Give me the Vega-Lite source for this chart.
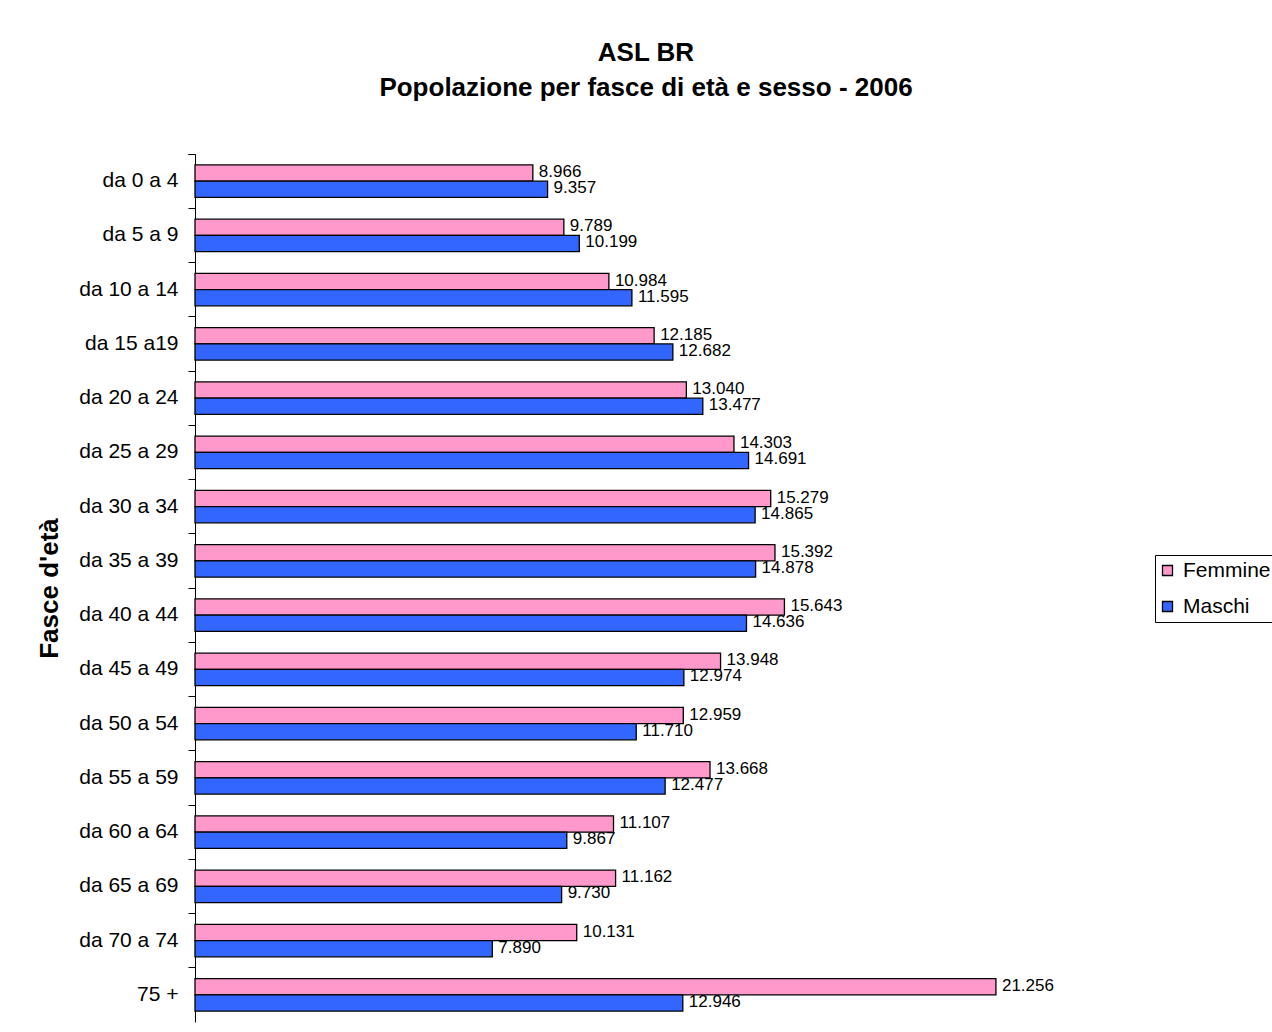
{
  "$schema": "https://vega.github.io/schema/vega-lite/v6.json",
  "autosize": "none",
  "width": 942,
  "height": 868,
  "padding": {"left": 195, "top": 154, "right": 135, "bottom": 10},
  "background": "white",
  "title": {
    "text": ["ASL BR", "Popolazione per fasce di età e sesso - 2006"],
    "font": "Liberation Sans",
    "fontSize": 26,
    "fontWeight": "bold",
    "color": "black",
    "anchor": "middle",
    "dx": -20,
    "offset": 42,
    "lineHeight": 35
  },
  "config": {
    "font": "Liberation Sans",
    "view": {"stroke": null},
    "locale": {
      "number": {"decimal": ",", "thousands": ".", "grouping": [3], "currency": ["€", ""]}
    }
  },
  "data": {
    "values": [
      {"fascia": "da 0 a 4", "sesso": "Femmine", "pop": 8966},
      {"fascia": "da 0 a 4", "sesso": "Maschi", "pop": 9357},
      {"fascia": "da 5 a 9", "sesso": "Femmine", "pop": 9789},
      {"fascia": "da 5 a 9", "sesso": "Maschi", "pop": 10199},
      {"fascia": "da 10 a 14", "sesso": "Femmine", "pop": 10984},
      {"fascia": "da 10 a 14", "sesso": "Maschi", "pop": 11595},
      {"fascia": "da 15 a19", "sesso": "Femmine", "pop": 12185},
      {"fascia": "da 15 a19", "sesso": "Maschi", "pop": 12682},
      {"fascia": "da 20 a 24", "sesso": "Femmine", "pop": 13040},
      {"fascia": "da 20 a 24", "sesso": "Maschi", "pop": 13477},
      {"fascia": "da 25 a 29", "sesso": "Femmine", "pop": 14303},
      {"fascia": "da 25 a 29", "sesso": "Maschi", "pop": 14691},
      {"fascia": "da 30 a 34", "sesso": "Femmine", "pop": 15279},
      {"fascia": "da 30 a 34", "sesso": "Maschi", "pop": 14865},
      {"fascia": "da 35 a 39", "sesso": "Femmine", "pop": 15392},
      {"fascia": "da 35 a 39", "sesso": "Maschi", "pop": 14878},
      {"fascia": "da 40 a 44", "sesso": "Femmine", "pop": 15643},
      {"fascia": "da 40 a 44", "sesso": "Maschi", "pop": 14636},
      {"fascia": "da 45 a 49", "sesso": "Femmine", "pop": 13948},
      {"fascia": "da 45 a 49", "sesso": "Maschi", "pop": 12974},
      {"fascia": "da 50 a 54", "sesso": "Femmine", "pop": 12959},
      {"fascia": "da 50 a 54", "sesso": "Maschi", "pop": 11710},
      {"fascia": "da 55 a 59", "sesso": "Femmine", "pop": 13668},
      {"fascia": "da 55 a 59", "sesso": "Maschi", "pop": 12477},
      {"fascia": "da 60 a 64", "sesso": "Femmine", "pop": 11107},
      {"fascia": "da 60 a 64", "sesso": "Maschi", "pop": 9867},
      {"fascia": "da 65 a 69", "sesso": "Femmine", "pop": 11162},
      {"fascia": "da 65 a 69", "sesso": "Maschi", "pop": 9730},
      {"fascia": "da 70 a 74", "sesso": "Femmine", "pop": 10131},
      {"fascia": "da 70 a 74", "sesso": "Maschi", "pop": 7890},
      {"fascia": "75 +", "sesso": "Femmine", "pop": 21256},
      {"fascia": "75 +", "sesso": "Maschi", "pop": 12946}
    ]
  },
  "encoding": {
    "y": {
      "field": "fascia",
      "type": "nominal",
      "sort": null,
      "scale": {"paddingInner": 0, "paddingOuter": 0},
      "axis": {
        "title": "Fasce d'età",
        "titleFont": "Liberation Sans",
        "titleFontSize": 26,
        "titleFontWeight": "bold",
        "titleColor": "black",
        "titleAngle": -90,
        "titleX": -146,
        "titleY": 434,
        "titleAlign": "center",
        "titleBaseline": "middle",
        "labelFont": "Liberation Sans",
        "labelFontSize": 21,
        "labelColor": "black",
        "labelPadding": 10,
        "domainColor": "black",
        "domainWidth": 1,
        "tickColor": "black",
        "tickSize": 7,
        "bandPosition": 0,
        "tickExtra": true
      }
    },
    "yOffset": {
      "field": "sesso",
      "type": "nominal",
      "scale": {"domain": ["Femmine", "Maschi"], "paddingInner": 0, "paddingOuter": 0.67}
    },
    "x": {
      "field": "pop",
      "type": "quantitative",
      "scale": {"domain": [0, 25000], "nice": false},
      "axis": null
    }
  },
  "layer": [
    {
      "mark": {"type": "bar", "stroke": "black", "strokeWidth": 1.3, "cornerRadius": 0},
      "encoding": {
        "color": {
          "field": "sesso",
          "type": "nominal",
          "scale": {"domain": ["Femmine", "Maschi"], "range": ["#FF99CC", "#3366FF"]},
          "legend": {
            "title": null,
            "orient": "none",
            "legendX": 960,
            "legendY": 401,
            "strokeColor": "black",
            "padding": 5,
            "symbolType": "square",
            "symbolSize": 100,
            "symbolOffset": -3,
            "symbolStrokeColor": "black",
            "symbolStrokeWidth": 1.3,
            "labelFont": "Liberation Sans",
            "labelFontSize": 21,
            "labelColor": "black",
            "rowPadding": 14,
            "labelOffset": 5
          }
        }
      }
    },
    {
      "mark": {"type": "text", "align": "left", "baseline": "middle", "dx": 6, "dy": -1, "fontSize": 17, "font": "Liberation Sans", "color": "black"},
      "encoding": {
        "text": {"field": "pop", "type": "quantitative", "format": ",d"}
      }
    }
  ]
}
